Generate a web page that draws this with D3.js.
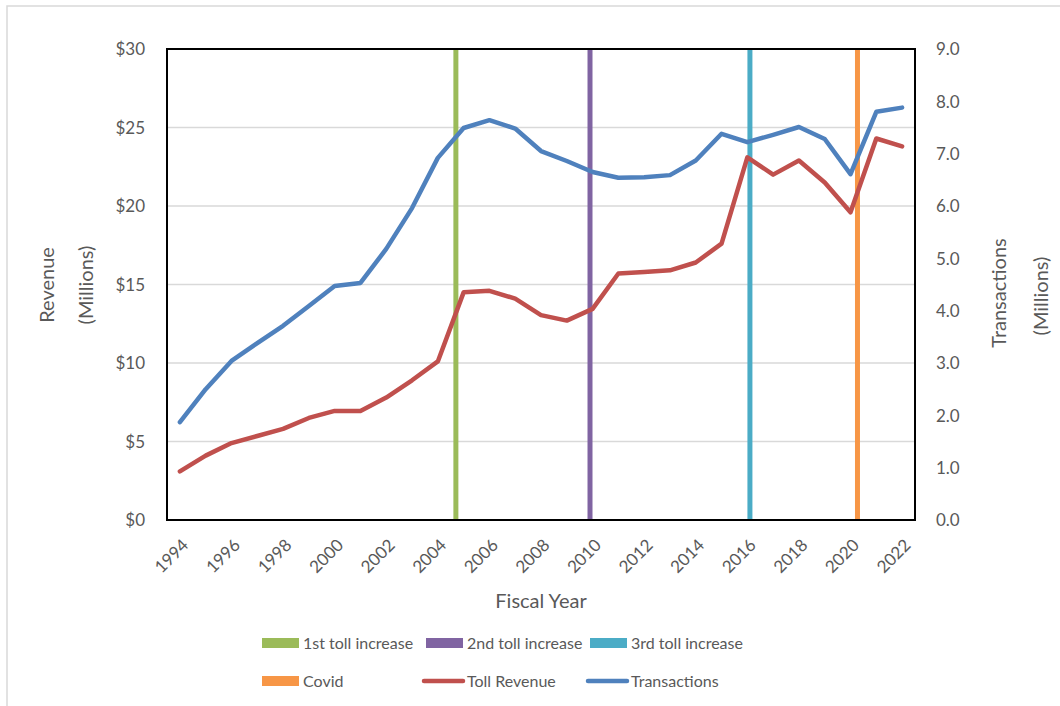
<!DOCTYPE html>
<html>
<head>
<meta charset="utf-8">
<script src="https://cdn.jsdelivr.net/npm/d3@7"></script>
<style>
  body { margin: 0; background: #fff; }
  text { font-family: Lato, "Open Sans", sans-serif; fill: #595959; }
</style>
</head>
<body>
<script>
// fiscal years and series
var years = d3.range(1994, 2023);
var tollRevenue = [3.1, 4.1, 4.9, 5.35, 5.8, 6.5, 6.95, 6.95, 7.8, 8.9, 10.1,
                   14.5, 14.6, 14.1, 13.05, 12.7, 13.45, 15.7, 15.8, 15.9, 16.4,
                   17.6, 23.1, 22.0, 22.9, 21.5, 19.6, 24.3, 23.8];
var transactions = [1.87, 2.5, 3.04, 3.38, 3.71, 4.09, 4.47, 4.53, 5.18, 5.96, 6.92,
                     7.49, 7.64, 7.48, 7.05, 6.86, 6.65, 6.54, 6.55, 6.59, 6.87,
                     7.38, 7.22, 7.36, 7.51, 7.28, 6.61, 7.8, 7.88];
var eventNames = ["1st toll increase", "2nd toll increase", "3rd toll increase", "Covid"];
var eventYears = [2004.7, 2009.9, 2016.1, 2020.27];
var eventColors = ["#9BBB59", "#8064A2", "#4BACC6", "#F79646"];
var revenueTicks = [0, 5, 10, 15, 20, 25, 30];
var transTicks = [0, 1, 2, 3, 4, 5, 6, 7, 8, 9];
var yearTicks = d3.range(1994, 2023, 2);

var width = 1060, height = 706;
var m = {left: 167, right: 915, top: 49, bottom: 520};

var svg = d3.select('body').append('svg')
    .attr('width', width)
    .attr('height', height);

// outer chart border
svg.append('rect')
    .attr('x', 7).attr('y', 6)
    .attr('width', 1100).attr('height', 800)
    .attr('fill', 'none')
    .attr('stroke', '#d9d9d9')
    .attr('stroke-width', 1.5);

var x = d3.scaleLinear().domain([1993.5, 2022.5]).range([m.left, m.right]);
var yL = d3.scaleLinear().domain([0, 30]).range([m.bottom, m.top]);
var yR = d3.scaleLinear().domain([0, 9]).range([m.bottom, m.top]);

// gridlines
svg.append('g')
    .selectAll('line')
    .data(revenueTicks.slice(1, -1))
    .enter().append('line')
    .attr('x1', m.left).attr('x2', m.right)
    .attr('y1', function (d) { return yL(d); })
    .attr('y2', function (d) { return yL(d); })
    .attr('stroke', '#d9d9d9')
    .attr('stroke-width', 1.5);

// left axis
var leftAxis = svg.append('g')
    .attr('transform', 'translate(' + (m.left - 19) + ',0)')
    .call(d3.axisLeft(yL).tickValues(revenueTicks).tickSize(0)
        .tickFormat(function (d) { return '$' + d; }));
leftAxis.select('.domain').remove();
leftAxis.selectAll('text').attr('font-size', 17).attr('dy', '0.35em');

// right axis
var rightAxis = svg.append('g')
    .attr('transform', 'translate(' + (m.right + 18) + ',0)')
    .call(d3.axisRight(yR).tickValues(transTicks).tickSize(0)
        .tickFormat(d3.format('.1f')));
rightAxis.select('.domain').remove();
rightAxis.selectAll('text').attr('font-size', 17).attr('dy', '0.35em');

// bottom axis
var bottomAxis = svg.append('g')
    .attr('transform', 'translate(0,' + m.bottom + ')')
    .call(d3.axisBottom(x).tickValues(yearTicks).tickSize(0)
        .tickFormat(d3.format('d')));
bottomAxis.select('.domain').remove();
bottomAxis.selectAll('text')
    .attr('font-size', 17)
    .attr('text-anchor', 'end')
    .attr('dy', '0.35em')
    .attr('transform', 'translate(5,22) rotate(-45)')
    .attr('y', 0).attr('x', 0);

// event markers
svg.append('g')
    .selectAll('line')
    .data(eventYears)
    .enter().append('line')
    .attr('x1', function (d) { return x(d); })
    .attr('x2', function (d) { return x(d); })
    .attr('y1', m.top).attr('y2', m.bottom)
    .attr('stroke', function (d, i) { return eventColors[i]; })
    .attr('stroke-width', 5);

// series
var revLine = d3.line()
    .x(function (d, i) { return x(years[i]); })
    .y(function (d) { return yL(d); });
var transLine = d3.line()
    .x(function (d, i) { return x(years[i]); })
    .y(function (d) { return yR(d); });

svg.append('path')
    .datum(tollRevenue)
    .attr('d', revLine)
    .attr('fill', 'none')
    .attr('stroke', '#C0504D')
    .attr('stroke-width', 4.5)
    .attr('stroke-linejoin', 'round')
    .attr('stroke-linecap', 'round');

svg.append('path')
    .datum(transactions)
    .attr('d', transLine)
    .attr('fill', 'none')
    .attr('stroke', '#4F81BD')
    .attr('stroke-width', 4.5)
    .attr('stroke-linejoin', 'round')
    .attr('stroke-linecap', 'round');

// plot frame
svg.append('rect')
    .attr('x', m.left).attr('y', m.top)
    .attr('width', m.right - m.left).attr('height', m.bottom - m.top)
    .attr('fill', 'none')
    .attr('stroke', '#000')
    .attr('stroke-width', 2);

// axis titles
svg.append('text')
    .attr('x', 541).attr('y', 608)
    .attr('text-anchor', 'middle')
    .attr('font-size', 20)
    .text('Fiscal Year');

function vTitle(txt, cx, cy) {
    svg.append('text')
        .attr('transform', 'translate(' + cx + ',' + cy + ') rotate(-90)')
        .attr('text-anchor', 'middle')
        .attr('font-size', 20)
        .text(txt);
}
vTitle('Revenue', 54, 285);
vTitle('(Millions)', 93, 285);
vTitle('Transactions', 1006, 293);
vTitle('(Millions)', 1048, 296);

// legend
var legendItems = [
    {name: eventNames[0], color: eventColors[0], type: 'box', x: 262, y: 643},
    {name: eventNames[1], color: eventColors[1], type: 'box', x: 426, y: 643},
    {name: eventNames[2], color: eventColors[2], type: 'box', x: 590, y: 643},
    {name: eventNames[3], color: eventColors[3], type: 'box', x: 262, y: 681},
    {name: 'Toll Revenue', color: '#C0504D', type: 'line', x: 424, y: 681},
    {name: 'Transactions', color: '#4F81BD', type: 'line', x: 588, y: 681}
];
var lg = svg.append('g').selectAll('g')
    .data(legendItems)
    .enter().append('g')
    .attr('transform', function (d) { return 'translate(' + d.x + ',' + d.y + ')'; });

lg.filter(function (d) { return d.type === 'box'; })
    .append('rect')
    .attr('x', 0).attr('y', -5)
    .attr('width', 37).attr('height', 10)
    .attr('fill', function (d) { return d.color; });

lg.filter(function (d) { return d.type === 'line'; })
    .append('line')
    .attr('x1', 0).attr('x2', 39)
    .attr('y1', 0).attr('y2', 0)
    .attr('stroke', function (d) { return d.color; })
    .attr('stroke-width', 4.5)
    .attr('stroke-linecap', 'round');

lg.append('text')
    .attr('x', function (d) { return d.type === 'box' ? 41 : 43; })
    .attr('y', 0)
    .attr('dy', '0.35em')
    .attr('font-size', 16)
    .text(function (d) { return d.name; });
</script>
</body>
</html>
